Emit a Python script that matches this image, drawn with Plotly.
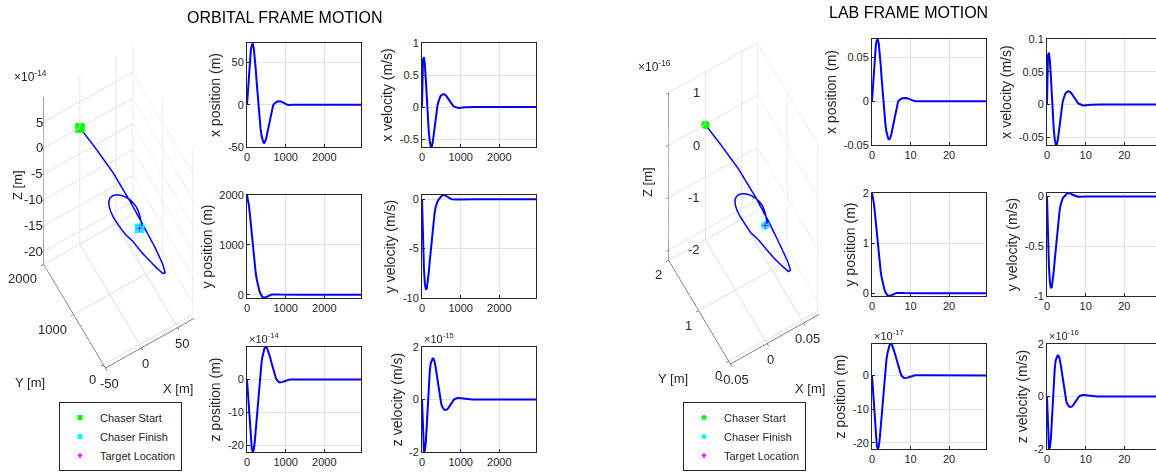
import plotly.graph_objects as go

# ---------------- DATA ----------------
t_orb = [0, 25, 50, 75, 100, 125, 150, 175, 200, 225,
         250, 275, 300, 325, 350, 375, 400, 425, 450, 475,
         500, 525, 550, 575, 600, 625, 650, 675, 700, 725,
         750, 775, 800, 825, 850, 875, 900, 925, 950, 975,
         1000, 1025, 1050, 1075, 1100, 1125, 1150, 1175, 1200, 1300,
         1400, 1600, 2000, 2500, 2950]

x_orb = [0, 18, 37, 53, 64.5, 71, 72, 67, 57, 43,
         27, 11, -4, -17, -28, -36.5, -42, -44.8, -45, -43,
         -39, -33.5, -27, -20.5, -14, -8.5, -4, -1, 1.0, 2.2,
         3.2, 3.7, 4.0, 4.2, 4.2, 3.9, 3.4, 2.7, 2.0, 1.3,
         0.7, 0.25, -0.05, -0.2, -0.28, -0.28, -0.22, -0.15, -0.08, 0.02,
         0.02, 0, 0, 0, 0]

vx_orb = [0, 0.74, 0.78, 0.66, 0.42, 0.12, -0.16, -0.38, -0.53, -0.61,
          -0.62, -0.56, -0.45, -0.32, -0.19, -0.07, 0.02, 0.08, 0.13, 0.165,
          0.185, 0.197, 0.2, 0.198, 0.19, 0.175, 0.155, 0.13, 0.105, 0.08,
          0.058, 0.038, 0.022, 0.01, 0.002, -0.005, -0.01, -0.013, -0.015, -0.015,
          -0.014, -0.012, -0.01, -0.008, -0.006, -0.004, -0.003, -0.002, -0.001, 0,
          0, 0, 0, 0, 0]

y_orb = [2000, 1920, 1790, 1610, 1400, 1180, 965, 765, 590, 440,
         315, 212, 130, 65, 18, -20, -45, -58, -62, -58,
         -48, -36, -24, -14, -6, 0, 4, 6.5, 7.5, 7.5,
         6.8, 5.8, 4.7, 3.7, 2.8, 2.0, 1.3, 0.8, 0.4, 0.1,
         -0.1, -0.2, -0.25, -0.25, -0.2, -0.15, -0.1, -0.05, 0, 0,
         0, 0, 0, 0, 0]

vy_orb = [0, -4, -7, -8.6, -9.1, -9.05, -8.4, -7.4, -6.3, -5.2,
          -4.1, -3.1, -2.2, -1.45, -0.85, -0.5, -0.25, -0.08, 0.05, 0.2,
          0.32, 0.4, 0.43, 0.42, 0.38, 0.32, 0.25, 0.18, 0.12, 0.07,
          0.03, 0.0, -0.02, -0.035, -0.04, -0.04, -0.038, -0.034, -0.03, -0.025,
          -0.02, -0.016, -0.012, -0.009, -0.006, -0.004, -0.003, -0.002, -0.001, 0,
          0, 0, 0, 0, 0]

# z position in units of 1e-14 m
z_orb_e14 = [0, -4.5, -9.5, -14.5, -18.5, -21, -22, -21.3, -19, -15.5,
             -11.5, -7.5, -3.5, -0.5, 2.5, 5, 7, 8.5, 9.4, 9.8,
             9.8, 9.4, 8.7, 7.8, 6.7, 5.5, 4.3, 3.1, 2.0, 1.1,
             0.35, -0.2, -0.55, -0.75, -0.85, -0.85, -0.8, -0.7, -0.58, -0.45,
             -0.33, -0.22, -0.13, -0.06, -0.01, 0.02, 0.04, 0.05, 0.05, 0.03,
             0.01, 0, 0, 0, 0]

# z velocity in units of 1e-15 m/s
vz_orb_e15 = [0, -1.6, -1.97, -1.95, -1.6, -0.95, -0.15, 0.55, 1.05, 1.38,
              1.52, 1.56, 1.55, 1.45, 1.25, 1.0, 0.72, 0.45, 0.18, -0.03,
              -0.18, -0.28, -0.35, -0.39, -0.4, -0.4, -0.38, -0.34, -0.28, -0.22,
              -0.16, -0.1, -0.05, -0.01, 0.02, 0.04, 0.05, 0.055, 0.055, 0.05,
              0.045, 0.04, 0.035, 0.028, 0.022, 0.016, 0.011, 0.007, 0.004, 0,
              0, 0, 0, 0, 0]

t_lab = [0, 0.25, 0.5, 0.75, 1, 1.25, 1.5, 1.75, 2, 2.25,
         2.5, 2.75, 3, 3.25, 3.5, 3.75, 4, 4.25, 4.5, 4.75,
         5, 5.25, 5.5, 5.75, 6, 6.25, 6.5, 6.75, 7, 7.25,
         7.5, 7.75, 8, 8.25, 8.5, 8.75, 9, 9.25, 9.5, 9.75,
         10, 10.25, 10.5, 10.75, 11, 11.25, 11.5, 11.75, 12, 13,
         14, 16, 20, 25, 29.6]

x_lab = [0, 0.018, 0.037, 0.053, 0.064, 0.0695, 0.0705, 0.066, 0.056, 0.042,
         0.026, 0.011, -0.004, -0.017, -0.027, -0.035, -0.0405, -0.0432, -0.0435, -0.0418,
         -0.038, -0.0325, -0.026, -0.02, -0.0135, -0.0082, -0.0039, -0.001, 0.0008, 0.0018,
         0.0026, 0.0031, 0.0035, 0.0037, 0.0038, 0.0038, 0.0036, 0.0032, 0.0027, 0.0021,
         0.0015, 0.0009, 0.0004, 0.0001, -0.0001, -0.0002, -0.0002, -0.00015, -0.0001, 0,
         0, 0, 0, 0, 0]

vx_lab = [0, 0.075, 0.079, 0.067, 0.043, 0.012, -0.016, -0.038, -0.053, -0.061,
          -0.062, -0.056, -0.045, -0.032, -0.019, -0.007, 0.002, 0.008, 0.013, 0.0165,
          0.0185, 0.0197, 0.02, 0.0198, 0.019, 0.0175, 0.0155, 0.013, 0.0105, 0.008,
          0.0058, 0.0038, 0.0022, 0.001, 0.0002, -0.0005, -0.001, -0.0013, -0.0015, -0.0015,
          -0.0014, -0.0012, -0.001, -0.0008, -0.0006, -0.0004, -0.0003, -0.0002, -0.0001, 0,
          0, 0, 0, 0, 0]

y_lab = [2, 1.92, 1.79, 1.61, 1.4, 1.18, 0.965, 0.765, 0.59, 0.44,
         0.315, 0.212, 0.13, 0.065, 0.018, -0.02, -0.042, -0.053, -0.056, -0.053,
         -0.044, -0.033, -0.022, -0.013, -0.0055, 0, 0.0037, 0.006, 0.007, 0.007,
         0.0063, 0.0054, 0.0044, 0.0035, 0.0026, 0.0019, 0.0012, 0.0007, 0.0004, 0.0001,
         -0.0001, -0.0002, -0.00025, -0.00025, -0.0002, -0.00015, -0.0001, -0.00005, 0, 0,
         0, 0, 0, 0, 0]

vy_lab = [0, -0.4, -0.7, -0.86, -0.92, -0.91, -0.85, -0.75, -0.64, -0.53,
          -0.42, -0.315, -0.225, -0.148, -0.087, -0.05, -0.025, -0.008, 0.005, 0.016,
          0.026, 0.033, 0.035, 0.034, 0.031, 0.026, 0.02, 0.015, 0.01, 0.006,
          0.0025, 0, -0.002, -0.0035, -0.004, -0.004, -0.0038, -0.0034, -0.003, -0.0025,
          -0.002, -0.0016, -0.0012, -0.0009, -0.0006, -0.0004, -0.0003, -0.0002, -0.0001, 0,
          0, 0, 0, 0, 0]

# z position in units of 1e-17 m
z_lab_e17 = [0, -4.5, -9.4, -14.3, -18.3, -20.8, -21.8, -21.1, -18.9, -15.4,
             -11.5, -7.6, -3.7, -0.7, 2.2, 4.6, 6.5, 7.9, 8.8, 9.2,
             9.25, 8.9, 8.2, 7.4, 6.3, 5.2, 4.1, 2.9, 1.9, 1.05,
             0.33, -0.2, -0.52, -0.72, -0.8, -0.8, -0.76, -0.66, -0.55, -0.43,
             -0.31, -0.21, -0.12, -0.06, -0.01, 0.02, 0.04, 0.05, 0.05, 0.03,
             0.01, 0, 0, 0, 0]

# z velocity in units of 1e-16 m/s
vz_lab_e16 = [0, -1.6, -1.97, -1.95, -1.6, -0.95, -0.15, 0.55, 1.05, 1.38,
              1.52, 1.56, 1.55, 1.45, 1.25, 1.0, 0.72, 0.45, 0.18, -0.03,
              -0.18, -0.28, -0.35, -0.39, -0.4, -0.4, -0.38, -0.34, -0.28, -0.22,
              -0.16, -0.1, -0.05, -0.01, 0.02, 0.04, 0.05, 0.055, 0.055, 0.05,
              0.045, 0.04, 0.035, 0.028, 0.022, 0.016, 0.011, 0.007, 0.004, 0,
              0, 0, 0, 0, 0]

target_pos = [0, 0, 0]

legend_names = ["Chaser Start", "Chaser Finish", "Target Location"]

# 3D axis ranges and ticks
orb3_xr, orb3_yr, orb3_zr = [-50, 73], [-66, 2000], [-22.5, 9.9]
orb3_xt = ([-50, 0, 50], ["-50", "0", "50"])
orb3_yt = ([0, 1000, 2000], ["0", "1000", "2000"])
orb3_zt = ([5, 0, -5, -10, -15, -20], ["5", "0", "-5", "-10", "-15", "-20"])
lab3_xr, lab3_yr, lab3_zr = [-0.05, 0.0715], [-0.06, 2], [-22, 10]
lab3_xt = ([-0.05, 0, 0.05], ["-0.05", "0", "0.05"])
lab3_yt = ([0, 1, 2], ["0", "1", "2"])
lab3_zt = ([10, 0, -10, -20], ["1", "0", "-1", "-2"])

# ---------------- STYLE / LAYOUT ----------------
W, H = 1156, 474
FONT = "Liberation Sans, Arial, sans-serif"
TXT = "#262626"
GRID = "#e2e2e2"
BLUE = "#0000ff"


def xd(a, b):
    return [a / W, b / W]


def yd(top, bottom):
    return [1 - bottom / H, 1 - top / H]


fig = go.Figure()
layout = {}
annotations = []

panels = [
    (1, t_orb, x_orb, xd(247, 361), yd(43, 147), [0, 2950], ([0, 1000, 2000], ["0", "1000", "2000"]),
     [-50, 73], ([-50, 0, 50], ["-50", "0", "50"]), "x position (m)", None, True),
    (2, t_orb, vx_orb, xd(422, 536), yd(43, 147), [0, 2950], ([0, 1000, 2000], ["0", "1000", "2000"]),
     [-0.625, 1], ([-0.5, 0, 0.5, 1], ["-0.5", "0", "0.5", "1"]), "x velocity (m/s)", None, True),
    (3, t_orb, y_orb, xd(247, 361), yd(195, 298), [0, 2950], ([0, 1000, 2000], ["0", "1000", "2000"]),
     [-66, 2000], ([0, 1000, 2000], ["0", "1000", "2000"]), "y position (m)", None, True),
    (4, t_orb, vy_orb, xd(422, 536), yd(195, 298), [0, 2950], ([0, 1000, 2000], ["0", "1000", "2000"]),
     [-10, 0.42], ([-10, -5, 0], ["-10", "-5", "0"]), "y velocity (m/s)", None, True),
    (5, t_orb, z_orb_e14, xd(247, 361), yd(347, 452), [0, 2950], ([0, 1000, 2000], ["0", "1000", "2000"]),
     [-22, 9.9], ([-20, -10, 0], ["-20", "-10", "0"]), "z position (m)", "-14", True),
    (6, t_orb, vz_orb_e15, xd(422, 536), yd(347, 452), [0, 2950], ([0, 1000, 2000], ["0", "1000", "2000"]),
     [-2, 2], ([-2, 0, 2], ["-2", "0", "2"]), "z velocity (m/s)", "-15", True),
    (7, t_lab, x_lab, xd(872, 986), yd(39, 145), [0, 29.6], ([0, 10, 20], ["0", "10", "20"]),
     [-0.05, 0.071], ([-0.05, 0, 0.05], ["-0.05", "0", "0.05"]), "x position (m)", None, True),
    (8, t_lab, vx_lab, xd(1047, 1156), yd(39, 145), [0, 28.2], ([0, 10, 20], ["0", "10", "20"]),
     [-0.062, 0.1], ([-0.05, 0, 0.05, 0.1], ["-0.05", "0", "0.05", "0.1"]), "x velocity (m/s)", None, False),
    (9, t_lab, y_lab, xd(872, 986), yd(193, 296), [0, 29.6], ([0, 10, 20], ["0", "10", "20"]),
     [-0.056, 2], ([0, 1, 2], ["0", "1", "2"]), "y position (m)", None, True),
    (10, t_lab, vy_lab, xd(1047, 1156), yd(193, 296), [0, 28.2], ([0, 10, 20], ["0", "10", "20"]),
     [-1, 0.035], ([-1, -0.5, 0], ["-1", "-0.5", "0"]), "y velocity (m/s)", None, False),
    (11, t_lab, z_lab_e17, xd(872, 986), yd(344, 449), [0, 29.6], ([0, 10, 20], ["0", "10", "20"]),
     [-21.8, 9.3], ([-20, -10, 0], ["-20", "-10", "0"]), "z position (m)", "-17", True),
    (12, t_lab, vz_lab_e16, xd(1047, 1156), yd(344, 449), [0, 28.2], ([0, 10, 20], ["0", "10", "20"]),
     [-2, 2], ([-2, 0, 2], ["-2", "0", "2"]), "z velocity (m/s)", "-16", False),
]

for idx, tt, vv, xdom, ydom, xr, xt, yr, yt, ttl, expo, mirror_y in panels:
    sfx = "" if idx == 1 else str(idx)
    fig.add_trace(go.Scatter(x=tt, y=vv, mode="lines", line=dict(color=BLUE, width=2),
                             xaxis="x" + sfx, yaxis="y" + sfx, showlegend=False,
                             hoverinfo="skip"))
    common = dict(showgrid=True, gridcolor=GRID, gridwidth=1, showline=True, linecolor=TXT,
                  linewidth=1, ticks="inside", ticklen=3, tickcolor=TXT, zeroline=False,
                  automargin=False, tickfont=dict(size=11, color=TXT, family=FONT))
    layout["xaxis" + sfx] = dict(domain=xdom, range=xr, anchor="y" + sfx, tickvals=xt[0],
                                 ticktext=xt[1], mirror=True, **common)
    layout["yaxis" + sfx] = dict(domain=ydom, range=yr, anchor="x" + sfx, tickvals=yt[0],
                                 ticktext=yt[1], mirror=mirror_y,
                                 title=dict(text=ttl, font=dict(size=14, color=TXT, family=FONT),
                                            standoff=3),
                                 **common)
    if expo:
        annotations.append(dict(text="\u00d710<sup>" + expo + "</sup>", xref="paper", yref="paper",
                                x=xdom[0], y=ydom[1], xanchor="left", yanchor="bottom",
                                showarrow=False, font=dict(size=11, color=TXT, family=FONT)))

# ---------------- 3D SCENES ----------------
def ax3(rng, tv):
    return dict(title=dict(text=""), range=rng, tickvals=tv, showticklabels=False,
                showgrid=True, gridcolor=GRID, showline=True, linecolor=TXT, linewidth=1,
                showbackground=False, zeroline=False, ticks="outside", ticklen=3,
                tickcolor=TXT, showspikes=False)


def tick_annots(xr, yr, zr, xt, yt, zt, zshift):
    f = dict(size=13, color=TXT, family=FONT)
    out = []
    for v, s in zip(*zt):
        out.append(dict(x=xr[0], y=yr[1], z=v, text=s, showarrow=False, xanchor="right",
                        yanchor="middle", xshift=zshift, font=f))
    for v, s in zip(*yt):
        out.append(dict(x=xr[0], y=v, z=zr[0], text=s, showarrow=False, xanchor="right",
                        yanchor="top", xshift=-5, yshift=-5, font=f))
    for v, s in zip(*xt):
        out.append(dict(x=v, y=yr[0], z=zr[0], text=s, showarrow=False, xanchor="center",
                        yanchor="top", xshift=4, yshift=-6, font=f))
    return out


eye = dict(x=-0.121 * 2.5, y=-0.2096 * 2.5, z=0.970 * 2.5)
cam = dict(eye=eye, up=dict(x=0, y=0, z=1), center=dict(x=0, y=0, z=0),
           projection=dict(type="orthographic"))
k = 0.65
asp = dict(x=0.89 * k, y=1.07 * k, z=6.0 * k)

layout["scene"] = dict(
    domain=dict(x=xd(10, 228), y=yd(30, 385)),
    xaxis=ax3(orb3_xr, orb3_xt[0]), yaxis=ax3(orb3_yr, orb3_yt[0]), zaxis=ax3(orb3_zr, orb3_zt[0]),
    aspectmode="manual", aspectratio=asp, camera=cam, bgcolor="rgba(0,0,0,0)",
    annotations=tick_annots(orb3_xr, orb3_yr, orb3_zr, orb3_xt, orb3_yt, orb3_zt, 1))

layout["scene2"] = dict(
    domain=dict(x=xd(635, 853), y=yd(26, 381)),
    xaxis=ax3(lab3_xr, lab3_xt[0]), yaxis=ax3(lab3_yr, lab3_yt[0]), zaxis=ax3(lab3_zr, lab3_zt[0]),
    aspectmode="manual", aspectratio=asp, camera=cam, bgcolor="rgba(0,0,0,0)",
    annotations=tick_annots(lab3_xr, lab3_yr, lab3_zr, lab3_xt, lab3_yt, lab3_zt, 33))

for scene, xs, ys, zs, leg, sym in [("scene", x_orb, y_orb, z_orb_e14, "legend", "square"),
                                    ("scene2", x_lab, y_lab, z_lab_e17, "legend2", "circle")]:
    fig.add_trace(go.Scatter3d(x=xs, y=ys, z=zs, mode="lines", line=dict(color=BLUE, width=3),
                               scene=scene, showlegend=False, hoverinfo="skip"))
    fig.add_trace(go.Scatter3d(x=[xs[0]], y=[ys[0]], z=[zs[0]], mode="markers", scene=scene,
                               marker=dict(color="#00ff00", size=5, symbol=sym),
                               name=legend_names[0], legend=leg))
    fig.add_trace(go.Scatter3d(x=[xs[-1]], y=[ys[-1]], z=[zs[-1]], mode="markers", scene=scene,
                               marker=dict(color="#00ffff", size=5, symbol=sym),
                               name=legend_names[1], legend=leg))
    fig.add_trace(go.Scatter3d(x=[target_pos[0]], y=[target_pos[1]], z=[target_pos[2]],
                               mode="markers", scene=scene,
                               marker=dict(color="#ff00ff", size=4, symbol="cross"),
                               name=legend_names[2], legend=leg))

legend_style = dict(xanchor="left", yanchor="top", bordercolor=TXT, borderwidth=1,
                    bgcolor="white", font=dict(size=11, color=TXT, family=FONT),
                    tracegroupgap=0, itemclick=False)
layout["legend"] = dict(x=59 / W, y=1 - 402 / H, **legend_style)
layout["legend2"] = dict(x=683 / W, y=1 - 402 / H, **legend_style)

f13 = dict(size=13, color=TXT, family=FONT)
for txt, px, py, ang in [("Z [m]", 17, 185, -90), ("Y [m]", 30, 382, 0), ("X [m]", 178, 388, 0),
                         ("Z [m]", 647, 182, -90), ("Y [m]", 673, 378, 0), ("X [m]", 810, 388, 0)]:
    annotations.append(dict(text=txt, xref="paper", yref="paper", x=px / W, y=1 - py / H,
                            xanchor="center", yanchor="middle", showarrow=False, textangle=ang,
                            font=f13))

annotations.append(dict(text="\u00d710<sup>-14</sup>", xref="paper", yref="paper", x=12 / W,
                        y=1 - 86 / H, xanchor="left", yanchor="bottom", showarrow=False,
                        font=dict(size=12, color=TXT, family=FONT)))
annotations.append(dict(text="\u00d710<sup>-16</sup>", xref="paper", yref="paper", x=636 / W,
                        y=1 - 76 / H, xanchor="left", yanchor="bottom", showarrow=False,
                        font=dict(size=12, color=TXT, family=FONT)))
annotations.append(dict(text="ORBITAL FRAME MOTION", xref="paper", yref="paper", x=285 / W,
                        y=1 - 17 / H, xanchor="center", yanchor="middle", showarrow=False,
                        font=dict(size=16, color="#000000", family=FONT)))
annotations.append(dict(text="LAB FRAME MOTION", xref="paper", yref="paper", x=908 / W,
                        y=1 - 12 / H, xanchor="center", yanchor="middle", showarrow=False,
                        font=dict(size=16, color="#000000", family=FONT)))

layout["annotations"] = annotations
fig.update_layout(**layout)
fig.update_layout(width=W, height=H, margin=dict(l=0, r=0, t=0, b=0, autoexpand=False),
                  paper_bgcolor="white", plot_bgcolor="white",
                  font=dict(family=FONT, color=TXT))

fig.write_html("out.html", config={"displayModeBar": False},
               post_script="document.body.style.margin='0px';document.body.style.overflow='hidden';")
